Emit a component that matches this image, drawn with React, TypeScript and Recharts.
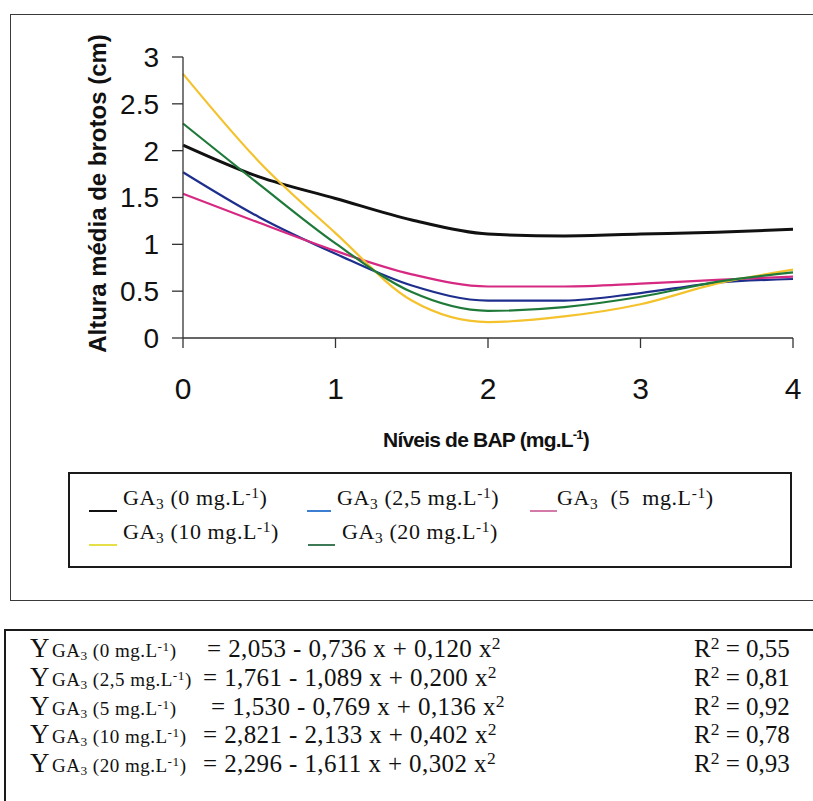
import React from "react";
import { LineChart, Line, XAxis, YAxis, Legend, Label } from "recharts";

const bapLevels = [0, 0.5, 1, 1.5, 2, 2.5, 3, 3.5, 4];

// mean shoot height (cm) per GA3 level
const ga0 = [2.06, 1.72, 1.49, 1.26, 1.11, 1.09, 1.11, 1.13, 1.16];
const ga25 = [1.77, 1.29, 0.9, 0.56, 0.4, 0.4, 0.48, 0.59, 0.63];
const ga5 = [1.54, 1.23, 0.93, 0.68, 0.55, 0.55, 0.58, 0.62, 0.655];
const ga10 = [2.82, 1.88, 1.12, 0.4, 0.17, 0.23, 0.36, 0.58, 0.73];
const ga20 = [2.29, 1.64, 1.01, 0.49, 0.29, 0.33, 0.44, 0.6, 0.7];

const xTicks = [0, 1, 2, 3, 4];
const yTicks = [0, 0.5, 1, 1.5, 2, 2.5, 3];

const seriesKeys = ["ga0", "ga25", "ga5", "ga10", "ga20"];
const doseLabels = ["0", "2,5", "5", "10", "20"];
const seriesColors = ["#111111", "#1d2e8c", "#d62a82", "#f4c22c", "#1f7a3a"];
const legendColors = ["#111111", "#3c7fd2", "#d47aa8", "#e6e048", "#3d7a55"];

const equations = [
  "= 2,053 - 0,736 x + 0,120 x",
  "= 1,761 - 1,089 x + 0,200 x",
  "= 1,530 - 0,769 x + 0,136 x",
  "= 2,821 - 2,133 x + 0,402 x",
  "= 2,296 - 1,611 x + 0,302 x",
];
const rSquared = ["0,55", "0,81", "0,92", "0,78", "0,93"];

const serif = "'Liberation Serif', 'Times New Roman', serif";
const sans = "'Liberation Sans', Arial, sans-serif";

const sub = { fontSize: "0.7em", verticalAlign: "-0.25em", lineHeight: 0 } as const;
const sup = { fontSize: "0.7em", verticalAlign: "0.45em", lineHeight: 0 } as const;

// legend slot layout: [lineStart, lineEnd, textStart, row]
const legendSlots = [
  [89, 117, 123, 0],
  [307, 331, 337, 0],
  [530, 557, 557, 0],
  [89, 117, 123, 1],
  [308, 335, 342, 1],
];

function LegendBox() {
  const boxLeft = 68;
  const boxTop = 472;
  const baselines = [505, 539];
  return (
    <div
      style={{
        position: "relative",
        width: 724,
        height: 96,
        border: "2px solid #1a1a1a",
        boxSizing: "border-box",
        fontFamily: serif,
        fontSize: 22,
        color: "#111",
      }}
    >
      {legendSlots.map(([x0, x1, tx, row], i) => (
        <React.Fragment key={i}>
          <div
            style={{
              position: "absolute",
              left: x0 - boxLeft - 2,
              top: baselines[row] + 5 - boxTop - 2,
              width: x1 - x0,
              height: 2,
              background: legendColors[i],
            }}
          />
          <span
            style={{
              position: "absolute",
              left: tx - boxLeft - 2,
              top: baselines[row] - 18.4 - boxTop - 2,
              lineHeight: 1,
              whiteSpace: "pre",
              letterSpacing: 0.6,
            }}
          >
            GA<span style={sub}>3</span>
            {i === 2 ? "  (" + doseLabels[i] + "  mg.L" : " (" + doseLabels[i] + " mg.L"}
            <span style={sup}>-1</span>)
          </span>
        </React.Fragment>
      ))}
    </div>
  );
}

function XAxisTitle(props: any) {
  const vb = props.viewBox;
  return (
    <text
      x={vb.x + vb.width / 2 - 2}
      y={vb.y + 109}
      textAnchor="middle"
      fontFamily={sans}
      fontWeight="bold"
      fontSize={21}
      letterSpacing={-0.8}
      fill="#111"
    >
      Níveis de BAP (mg.L
      <tspan dy={-8} fontSize={13}>-1</tspan>
      <tspan dy={8}>)</tspan>
    </text>
  );
}

function YAxisTitle(props: any) {
  const vb = props.viewBox;
  const cx = 97;
  const cy = vb.y + vb.height / 2 - 4;
  return (
    <text
      x={cx}
      y={cy}
      transform={`rotate(-90, ${cx}, ${cy})`}
      textAnchor="middle"
      dominantBaseline="central"
      fontFamily={sans}
      fontWeight="bold"
      fontSize={24}
      fill="#111"
    >
      Altura média de brotos (cm)
    </text>
  );
}

const eqLeft = [207, 203, 211, 203, 203];
const rowBaselines = [657, 686, 715, 743, 772];

function EquationTable() {
  return (
    <div
      style={{
        position: "absolute",
        left: 4,
        top: 629,
        width: 900,
        height: 300,
        borderTop: "2px solid #1a1a1a",
        borderLeft: "2px solid #1a1a1a",
        fontFamily: serif,
        color: "#111",
      }}
    >
      {equations.map((eq, i) => {
        const top = rowBaselines[i] - 629 - 2;
        return (
          <React.Fragment key={i}>
            <span style={{ position: "absolute", left: 24, top: top - 22, fontSize: 27, lineHeight: 1 }}>Y</span>
            <span
              style={{
                position: "absolute",
                left: 46,
                top: top - 16,
                fontSize: 19,
                lineHeight: 1,
                letterSpacing: 0.5,
                whiteSpace: "pre",
              }}
            >
              GA<span style={sub}>3</span> ({doseLabels[i]} mg.L<span style={sup}>-1</span>)
            </span>
            <span
              style={{
                position: "absolute",
                left: eqLeft[i] - 6,
                top: top - 21,
                fontSize: 25,
                lineHeight: 1,
                letterSpacing: 0.4,
                whiteSpace: "pre",
              }}
            >
              {eq}
              <span style={sup}>2</span>
            </span>
            <span
              style={{
                position: "absolute",
                left: 688,
                top: top - 21,
                fontSize: 25,
                lineHeight: 1,
                whiteSpace: "pre",
              }}
            >
              R<span style={sup}>2</span> = {rSquared[i]}
            </span>
          </React.Fragment>
        );
      })}
    </div>
  );
}

export default function App() {
  const data = bapLevels.map((x, i) => ({
    x,
    ga0: ga0[i],
    ga25: ga25[i],
    ga5: ga5[i],
    ga10: ga10[i],
    ga20: ga20[i],
  }));

  return (
    <div
      style={{
        position: "absolute",
        left: 0,
        top: 0,
        width: 813,
        height: 801,
        overflow: "hidden",
        background: "#fff",
      }}
    >
      <div
        style={{
          position: "absolute",
          left: 10,
          top: 14,
          width: 900,
          height: 587,
          border: "1.5px solid #3a3a3a",
          boxSizing: "border-box",
        }}
      />
      <div style={{ position: "absolute", left: 0, top: 0 }}>
        <LineChart
          width={813}
          height={600}
          data={data}
          margin={{ top: 57, right: 20, bottom: 202, left: 123 }}
        >
          <XAxis
            dataKey="x"
            type="number"
            domain={[0, 4]}
            ticks={xTicks}
            height={60}
            tickSize={10}
            tickMargin={30}
            axisLine={{ stroke: "#333", strokeWidth: 1.3 }}
            tickLine={{ stroke: "#333", strokeWidth: 1.3 }}
            tick={{ fontSize: 30, fill: "#111", fontFamily: sans }}
          >
            <Label content={XAxisTitle} />
          </XAxis>
          <YAxis
            type="number"
            domain={[0, 3]}
            ticks={yTicks}
            width={60}
            tickSize={11}
            tickMargin={13}
            axisLine={{ stroke: "#333", strokeWidth: 1.3 }}
            tickLine={{ stroke: "#333", strokeWidth: 1.3 }}
            tick={{ fontSize: 28, fill: "#111", fontFamily: sans }}
          >
            <Label content={YAxisTitle} />
          </YAxis>
          <Legend
            layout="vertical"
            verticalAlign="middle"
            align="center"
            content={() => <LegendBox />}
            wrapperStyle={{ left: 68, top: 472, width: 724, height: 96 }}
          />
          {seriesKeys.map((k, i) => (
            <Line
              key={k}
              dataKey={k}
              type="monotone"
              stroke={seriesColors[i]}
              strokeWidth={i === 0 ? 3 : 2.2}
              dot={false}
              activeDot={false}
              isAnimationActive={false}
            />
          ))}
        </LineChart>
      </div>
      <EquationTable />
    </div>
  );
}
